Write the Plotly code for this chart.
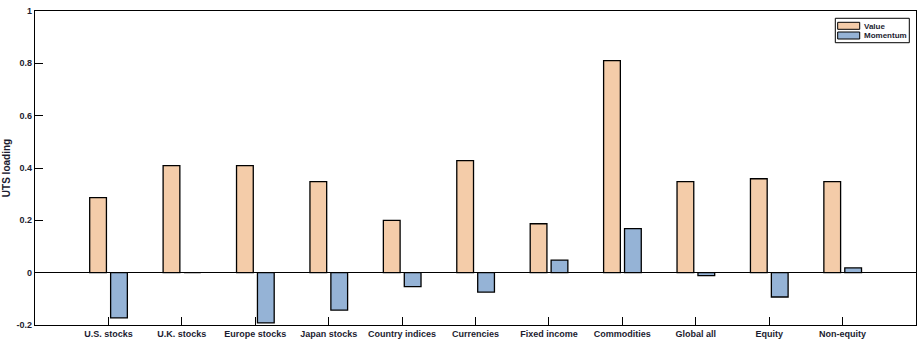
import plotly.graph_objects as go

categories = ["U.S. stocks", "U.K. stocks", "Europe stocks", "Japan stocks", "Country indices",
              "Currencies", "Fixed income", "Commodities", "Global all", "Equity", "Non-equity"]
value = [0.287, 0.409, 0.409, 0.348, 0.20, 0.428, 0.187, 0.81, 0.348, 0.359, 0.348]
momentum = [-0.173, 0.0, -0.192, -0.143, -0.053, -0.074, 0.048, 0.168, -0.011, -0.093, 0.018]
yticks = [-0.2, 0, 0.2, 0.4, 0.6, 0.8, 1]
yticklabels = ["-0.2", "0", "0.2", "0.4", "0.6", "0.8", "1"]
series_names = ["Value", "Momentum"]
series_colors = ["#F4CCA9", "#95B3D6"]

xpos = list(range(1, len(categories) + 1))
txtcol = "#1c1c30"
fam = "Liberation Sans, Arial, sans-serif"
font = dict(family=fam, size=9, color=txtcol)

fig = go.Figure()
fig.add_trace(go.Bar(x=xpos, y=value, name=series_names[0], width=0.228, offset=-0.255,
                     marker=dict(color=series_colors[0], line=dict(color="black", width=1.3))))
fig.add_trace(go.Bar(x=xpos, y=momentum, name=series_names[1], width=0.228, offset=0.03,
                     marker=dict(color=series_colors[1], line=dict(color="black", width=1.3))))

# custom compact legend box (MATLAB style)
shapes = [dict(type="rect", xref="paper", yref="paper", x0=0.9084, x1=0.9924, y0=0.899, y1=0.9768,
               line=dict(color="black", width=1), fillcolor="white", layer="above")]
sw = [(0.9417, 0.964, 0.952), (0.9108, 0.9331, 0.922)]
annotations = []
for (y0, y1, yt), nm, col in zip(sw, series_names, series_colors):
    shapes.append(dict(type="rect", xref="paper", yref="paper", x0=0.9111, x1=0.9361, y0=y0, y1=y1,
                       line=dict(color="black", width=1), fillcolor=col, layer="above"))
    annotations.append(dict(xref="paper", yref="paper", x=0.939, y=yt, xanchor="left", yanchor="middle",
                            text="<b>%s</b>" % nm, showarrow=False,
                            font=dict(family=fam, size=8, color=txtcol)))

fig.update_layout(
    width=921, height=349,
    margin=dict(l=35, r=5, t=11, b=24),
    plot_bgcolor="white", paper_bgcolor="white",
    barmode="overlay",
    font=font,
    showlegend=False,
    shapes=shapes,
    annotations=annotations,
    xaxis=dict(range=[0, 12], tickvals=xpos, ticktext=["<b>%s</b>" % c for c in categories],
               ticks="inside", ticklen=8, tickcolor="black", tickwidth=1,
               showline=True, linecolor="black", linewidth=1.3, mirror=True,
               showgrid=False, zeroline=False, tickfont=font),
    yaxis=dict(range=[-0.2, 1], tickvals=yticks, ticktext=["<b>%s</b>" % t for t in yticklabels],
               ticks="inside", ticklen=8, tickcolor="black", tickwidth=1,
               showline=True, linecolor="black", linewidth=1.3, mirror=True,
               showgrid=False, zeroline=True, zerolinecolor="black", zerolinewidth=1.3,
               title=dict(text="<b>UTS loading</b>", standoff=4,
                          font=dict(family=fam, size=10, color=txtcol)),
               tickfont=font),
)

fig.write_html("out.html")
